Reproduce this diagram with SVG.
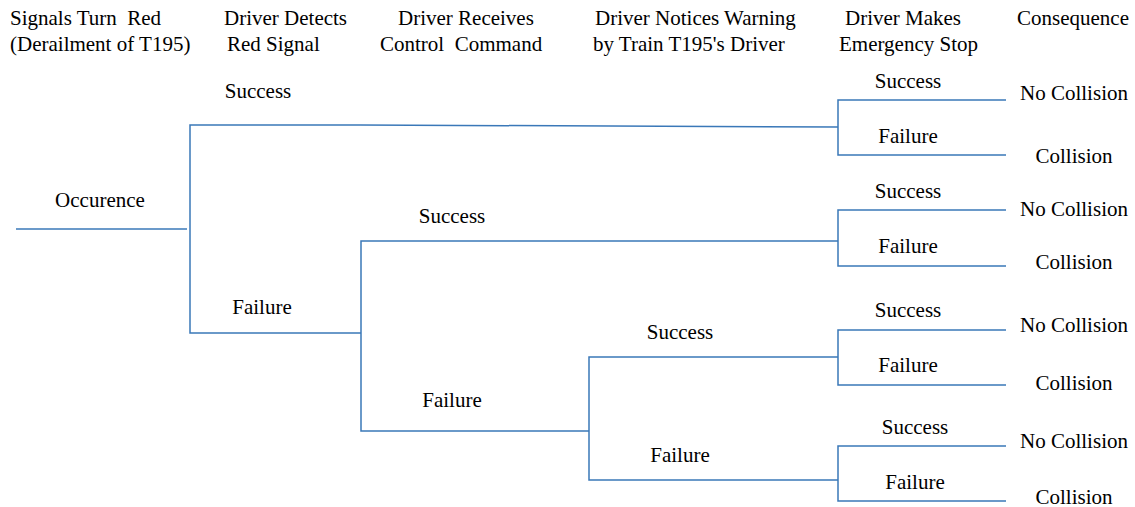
<svg xmlns="http://www.w3.org/2000/svg" width="1135" height="507" viewBox="0 0 1135 507">
<style>
text{font-family:'Liberation Serif','Times New Roman',Times,'DejaVu Serif',serif;font-size:21px;fill:#000;white-space:pre}
.c{text-anchor:middle}
.ln{fill:none;stroke:#3A78B8;stroke-width:1.5}
</style>
<rect width="1135" height="507" fill="#fff"/>
<g id="headers" xml:space="preserve">
<text x="10" y="25">Signals Turn  Red</text>
<text x="10" y="51">(Derailment of T195)</text>
<text x="224" y="25">Driver Detects</text>
<text x="227" y="51">Red Signal</text>
<text x="398" y="25">Driver Receives</text>
<text x="380" y="51">Control  Command</text>
<text x="595" y="25">Driver Notices Warning</text>
<text x="593" y="51">by Train T195's Driver</text>
<text x="845" y="25">Driver Makes</text>
<text x="839" y="51">Emergency Stop</text>
<text x="1017" y="25">Consequence</text>
</g>
<g id="connectors">
<polyline class="ln" points="16,229 187,229"/>
<polyline class="ln" points="360,125 190,125 190,333 361,333"/>
<polyline class="ln" points="360,125 838,127"/>
<polyline class="ln" points="1006,100 838,100 838,155 1006,155"/>
<polyline class="ln" points="838,241 361,241 361,431 589,431"/>
<polyline class="ln" points="1006,210 838,210 838,266 1006,266"/>
<polyline class="ln" points="838,357 589,357 589,480 838,480"/>
<polyline class="ln" points="1006,330 838,330 838,385 1006,385"/>
<polyline class="ln" points="1006,446 838,446 838,501 1006,501"/>
</g>
<g id="occurence"><text class="c" x="100" y="207">Occurence</text></g>
<g id="stage1">
<text class="c" x="258" y="98">Success</text>
<text class="c" x="262" y="314">Failure</text>
</g>
<g id="stage2">
<text class="c" x="452" y="223">Success</text>
<text class="c" x="452" y="407">Failure</text>
</g>
<g id="stage3">
<text class="c" x="680" y="339">Success</text>
<text class="c" x="680" y="462">Failure</text>
</g>
<g id="stage4">
<text class="c" x="908" y="88">Success</text>
<text class="c" x="908" y="143">Failure</text>
<text class="c" x="908" y="198">Success</text>
<text class="c" x="908" y="253">Failure</text>
<text class="c" x="908" y="317">Success</text>
<text class="c" x="908" y="372">Failure</text>
<text class="c" x="915" y="434">Success</text>
<text class="c" x="915" y="489">Failure</text>
</g>
<g id="consequences">
<text class="c" x="1074" y="100">No Collision</text>
<text class="c" x="1074" y="163">Collision</text>
<text class="c" x="1074" y="216">No Collision</text>
<text class="c" x="1074" y="269">Collision</text>
<text class="c" x="1074" y="332">No Collision</text>
<text class="c" x="1074" y="390">Collision</text>
<text class="c" x="1074" y="448">No Collision</text>
<text class="c" x="1074" y="504">Collision</text>
</g>
</svg>
